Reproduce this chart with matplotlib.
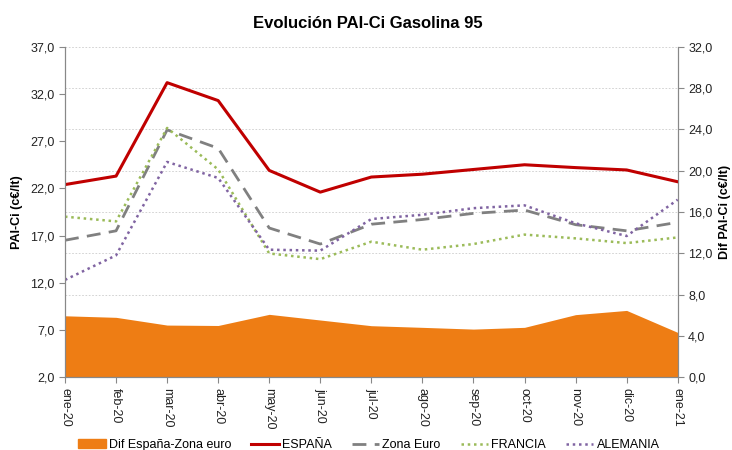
import matplotlib.pyplot as plt
from matplotlib.ticker import FuncFormatter, FixedLocator
from matplotlib.patches import Patch

plt.rcParams['font.family'] = ['Liberation Sans', 'DejaVu Sans']

meses = ["ene-20", "feb-20", "mar-20", "abr-20", "may-20", "jun-20", "jul-20",
         "ago-20", "sep-20", "oct-20", "nov-20", "dic-20", "ene-21"]

espana = [22.4, 23.3, 33.2, 31.3, 23.9, 21.6, 23.2, 23.5, 24.0, 24.5, 24.2, 23.95, 22.7]
zona_euro = [16.5, 17.5, 28.2, 26.25, 17.8, 16.1, 18.2, 18.7, 19.35, 19.7, 18.15, 17.5, 18.4]
francia = [19.0, 18.5, 28.4, 24.0, 15.1, 14.5, 16.35, 15.5, 16.1, 17.1, 16.7, 16.2, 16.8]
alemania = [12.3, 14.9, 24.8, 23.1, 15.5, 15.4, 18.75, 19.2, 19.9, 20.2, 18.3, 16.95, 20.8]
dif = [5.94, 5.79, 5.04, 5.0, 6.08, 5.53, 4.98, 4.82, 4.65, 4.82, 6.05, 6.46, 4.33]

x = list(range(len(meses)))

fig = plt.figure(figsize=(7.32, 4.5), dpi=100)
ax = fig.add_axes([0.0888, 0.162, 0.837, 0.734])
ax2 = ax.twinx()

# area on the right axis, drawn below the lines
ax2.fill_between(x, 0, dif, color="#EE7D14", linewidth=0, zorder=1)
ax2.set_ylim(0, 32)
ax2.yaxis.set_major_locator(FixedLocator([0, 4, 8, 12, 16, 20, 24, 28, 32]))
ax2.yaxis.set_major_formatter(FuncFormatter(lambda v, p: f"{v:.1f}".replace(".", ",")))
ax2.set_axisbelow(True)
ax2.grid(axis="y", color="#CCCCCC", linestyle=(0, (2, 2)), linewidth=0.6)
ax2.set_ylabel("Dif PAI-Ci (c€/lt)", fontsize=9, fontweight="bold", labelpad=5)

ax.set_zorder(ax2.get_zorder() + 1)
ax.patch.set_visible(False)

ax.plot(x, espana, color="#C00000", linewidth=2.2, label="ESPAÑA")
ax.plot(x, zona_euro, color="#808080", linewidth=2.0, linestyle=(0, (5, 3)), label="Zona Euro")
ax.plot(x, francia, color="#9BBB59", linewidth=1.8, linestyle=(0, (1, 1.5)), label="FRANCIA")
ax.plot(x, alemania, color="#8064A2", linewidth=1.8, linestyle=(0, (1, 1.5)), label="ALEMANIA")

ax.set_xlim(0, 12)
ax.set_ylim(2, 37)
ax.yaxis.set_major_locator(FixedLocator([2, 7, 12, 17, 22, 27, 32, 37]))
ax.yaxis.set_major_formatter(FuncFormatter(lambda v, p: f"{v:.1f}".replace(".", ",")))
ax.set_xticks(x)
ax.set_xticklabels(meses, rotation=-90)
ax.set_ylabel("PAI-Ci (c€/lt)", fontsize=9, fontweight="bold", labelpad=5)

for a in (ax, ax2):
    a.tick_params(labelsize=9, labelcolor="#222222", length=4, width=0.8, color="#888888")
    a.spines["top"].set_visible(False)
    for s in ("left", "right", "bottom"):
        a.spines[s].set_color("#888888")

fig.text(0.503, 0.947, "Evolución PAI-Ci Gasolina 95", fontsize=12, fontweight="bold",
         ha="center", va="center")

handles = [Patch(color="#EE7D14", label="Dif España-Zona euro")] + ax.get_lines()
fig.legend(handles=handles, labels=[h.get_label() for h in handles], loc="center",
           bbox_to_anchor=(0.504, 0.011), ncol=5, frameon=False, fontsize=9,
           handlelength=2.2, columnspacing=1.6, handletextpad=0.25)

fig.savefig("out.png", dpi=100)
